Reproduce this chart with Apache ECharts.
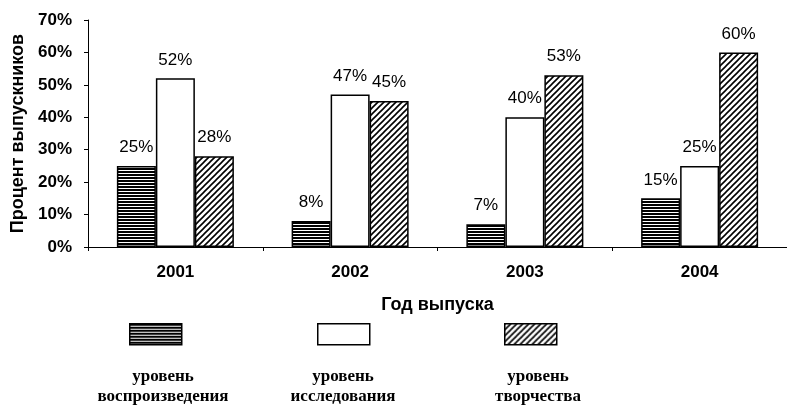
<!DOCTYPE html>
<html><head><meta charset="utf-8">
<script src="https://cdn.jsdelivr.net/npm/echarts@6/dist/echarts.min.js"></script>
<style>html,body{margin:0;padding:0;background:#fff}#c{width:787px;height:405px}</style>
</head><body><div id="c"></div>
<script>
const categories = ['2001', '2002', '2003', '2004'];
const seriesNames = ['уровень\nвоспроизведения', 'уровень\nисследования', 'уровень\nтворчества'];
const reproduction = [25, 8, 7, 15];
const research = [52, 47, 40, 25];
const creativity = [28, 45, 53, 60];
const yTicks = [0, 10, 20, 30, 40, 50, 60, 70];

function hPattern() {
  const c = document.createElement('canvas'); c.width = 4; c.height = 3;
  const g = c.getContext('2d');
  g.fillStyle = '#000'; g.fillRect(0, 0, 4, 3);
  g.fillStyle = '#fff'; g.fillRect(0, 2, 4, 1);
  return { image: c, repeat: 'repeat' };
}
function dPattern() {
  const s = 6;
  const c = document.createElement('canvas'); c.width = s; c.height = s;
  const g = c.getContext('2d');
  g.fillStyle = '#fff'; g.fillRect(0, 0, s, s);
  g.strokeStyle = '#000'; g.lineWidth = 1.6;
  g.beginPath();
  g.moveTo(0, s); g.lineTo(s, 0);
  g.moveTo(-1, 1); g.lineTo(1, -1);
  g.moveTo(s - 1, s + 1); g.lineTo(s + 1, s - 1);
  g.stroke();
  return { image: c, repeat: 'repeat' };
}
const fills = [hPattern(), '#fff', dPattern()];
const datas = [reproduction, research, creativity];

const chart = echarts.init(document.getElementById('c'), null, { renderer: 'canvas' });
const font = 'Arial, "Liberation Sans", sans-serif';
const series = datas.map((d, i) => ({
  type: 'bar', name: seriesNames[i], data: d,
  barWidth: 39, barGap: '0%',
  itemStyle: { color: fills[i], borderColor: '#000', borderWidth: 1.5 },
  label: { show: true, position: 'top', distance: 10, formatter: '{c}%', fontFamily: font, fontSize: 17, color: '#000' },
  silent: true, animation: false
}));

const legendX = [155, 343, 530];
const labelX = [163, 343, 538];
const graphics = [];
legendX.forEach((cx, i) => {
  graphics.push({ type: 'rect', left: cx - 26, top: 323, shape: { width: 52, height: 21 },
    style: { fill: fills[i], stroke: '#000', lineWidth: 1.5 } });
  graphics.push({ type: 'text', x: labelX[i], y: 367,
    style: { text: seriesNames[i], fill: '#000', font: 'bold 17px "Liberation Serif", "Times New Roman", serif', textAlign: 'center', lineHeight: 20 } });
});

chart.setOption({
  animation: false,
  grid: { left: 88, top: 20, width: 703, bottom: 158 },
  xAxis: {
    type: 'category', data: categories,
    name: 'Год выпуска', nameLocation: 'middle', nameGap: 49,
    nameTextStyle: { fontFamily: font, fontWeight: 'bold', fontSize: 18, color: '#000' },
    axisLine: { lineStyle: { color: '#000', width: 1 } },
    axisTick: { show: true, length: 4, lineStyle: { color: '#000' } },
    axisLabel: { fontFamily: font, fontSize: 17, fontWeight: 'bold', color: '#000', margin: 17 }
  },
  yAxis: {
    type: 'value', min: 0, max: 70, interval: 10,
    name: 'Процент выпускников', nameLocation: 'middle', nameGap: 61,
    nameTextStyle: { fontFamily: font, fontWeight: 'bold', fontSize: 18, color: '#000' },
    axisLine: { show: true, lineStyle: { color: '#000', width: 1 } },
    axisTick: { show: true, length: 4, lineStyle: { color: '#000' } },
    splitLine: { show: false },
    axisLabel: { fontFamily: font, fontSize: 17, fontWeight: 'bold', color: '#000', margin: 16,
      formatter: v => yTicks.includes(v) ? v + '%' : '' }
  },
  series: series,
  graphic: graphics
});
</script></body></html>
